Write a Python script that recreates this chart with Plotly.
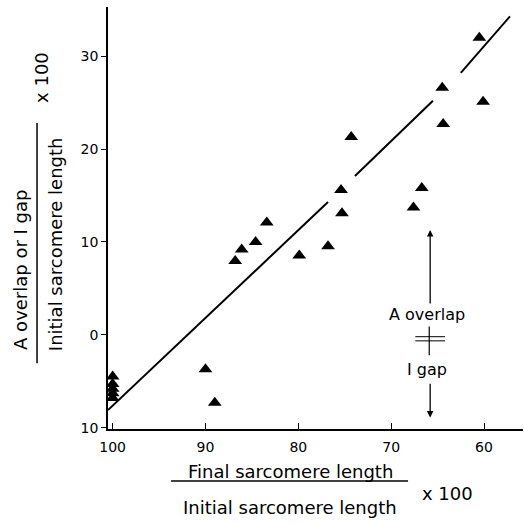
import plotly.graph_objects as go

# ---- data ----
pts_x = [100, 100, 100, 100, 100, 90.0, 89.0, 86.8, 86.1, 84.6, 83.4, 79.9, 76.8,
         75.4, 75.3, 74.3, 67.6, 66.7, 64.5, 64.4, 60.5, 60.1]
pts_y = [-4.5, -5.3, -5.8, -6.3, -6.8, -3.7, -7.3, 7.95, 9.2, 10.0, 12.1, 8.55, 9.55,
         15.6, 13.1, 21.3, 13.7, 15.8, 26.6, 22.7, 32.0, 25.1]

# fitted line, drawn in three pieces (gaps as in the original)
fit_x = [100.5, 76.8, None, 73.9, 65.5, None, 62.5, 57.2]
fit_y = [-8.1, 14.3, None, 17.1, 25.2, None, 28.2, 34.3]

x_ticks = [100, 90, 80, 70, 60]
y_ticks = [-10, 0, 10, 20, 30]
y_tick_text = ["10", "0", "10", "20", "30"]

FONT = "DejaVu Sans"

fig = go.Figure()
fig.add_trace(go.Scatter(x=fit_x, y=fit_y, mode="lines",
                         line=dict(color="black", width=2), hoverinfo="skip",
                         showlegend=False))
fig.add_trace(go.Scatter(x=pts_x, y=pts_y, mode="markers",
                         marker=dict(symbol="triangle-up", size=12, color="black"),
                         showlegend=False))

# A overlap / I gap indicator
fig.add_annotation(x=65.8, y=11.3, ax=65.8, ay=3.2, xref="x", yref="y",
                   axref="x", ayref="y", showarrow=True, arrowhead=2,
                   arrowsize=1, arrowwidth=1.3, arrowcolor="black", text="")
fig.add_annotation(x=65.8, y=-8.9, ax=65.8, ay=-5.1, xref="x", yref="y",
                   axref="x", ayref="y", showarrow=True, arrowhead=2,
                   arrowsize=1, arrowwidth=1.3, arrowcolor="black", text="")
fig.add_shape(type="line", x0=67.4, x1=64.2, y0=-0.2, y1=-0.2,
              line=dict(color="black", width=1))
fig.add_shape(type="line", x0=67.4, x1=64.2, y0=-0.65, y1=-0.65,
              line=dict(color="black", width=1))
fig.add_shape(type="line", x0=65.9, x1=65.9, y0=0.9, y1=-2.2,
              line=dict(color="black", width=1.2))
fig.add_annotation(x=66.1, y=2.2, xref="x", yref="y", text="A overlap",
                   xanchor="center", yanchor="middle",
                   showarrow=False, font=dict(size=16, family=FONT, color="black"))
fig.add_annotation(x=66.1, y=-3.7, xref="x", yref="y", text="I gap",
                   xanchor="center", yanchor="middle",
                   showarrow=False, font=dict(size=16, family=FONT, color="black"))

tfont = dict(size=18, family=FONT, color="black")
C = dict(xref="paper", yref="paper", xanchor="center", yanchor="middle",
         showarrow=False, font=tfont)
# x-axis title as a fraction
fig.add_annotation(x=0.4386, y=-0.100, text="Final sarcomere length", **C)
fig.add_shape(type="line", xref="paper", yref="paper", x0=0.152, x1=0.723,
              y0=-0.123, y1=-0.123, line=dict(color="black", width=1.5))
fig.add_annotation(x=0.4386, y=-0.187, text="Initial sarcomere length", **C)
fig.add_annotation(x=0.819, y=-0.154, text="x 100", **C)

# y-axis title as a fraction
fig.add_annotation(x=-0.2096, y=0.377, textangle=-90, text="A overlap or I gap", **C)
fig.add_shape(type="line", xref="paper", yref="paper", x0=-0.171, x1=-0.171,
              y0=0.156, y1=0.725, line=dict(color="black", width=1.5))
fig.add_annotation(x=-0.1277, y=0.438, textangle=-90,
                   text="Initial sarcomere length", **C)
fig.add_annotation(x=-0.159, y=0.832, textangle=-90, text="x 100", **C)

fig.update_layout(
    width=524, height=523,
    margin=dict(l=108, r=1, t=7, b=94),
    paper_bgcolor="white", plot_bgcolor="white",
    font=dict(family=FONT, color="black"),
    xaxis=dict(range=[100.5, 55.8], tickvals=x_ticks, ticks="inside", ticklen=6,
               tickcolor="black", showline=True, linecolor="black", linewidth=1.5,
               showgrid=False, zeroline=False, tickfont=dict(size=14, family=FONT),
               ticklabelstandoff=4),
    yaxis=dict(range=[-10.14, 35.3], tickvals=y_ticks, ticktext=y_tick_text,
               ticks="outside", ticklen=5, tickcolor="black", showline=True,
               linecolor="black", linewidth=1.5, showgrid=False, zeroline=False,
               tickfont=dict(size=14, family=FONT)),
)

fig.write_html("out.html", config={"displayModeBar": False},
               post_script="document.body.style.margin='0';document.body.style.padding='0';")
